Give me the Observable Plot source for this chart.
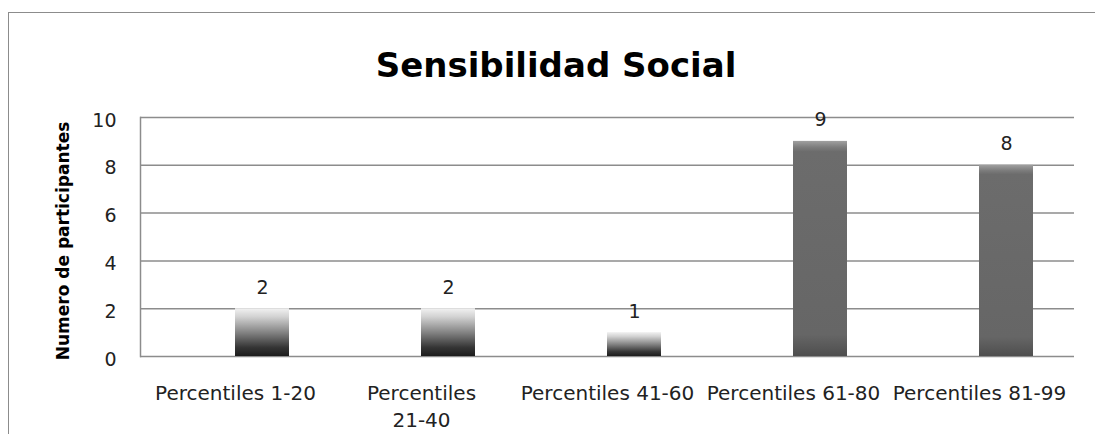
<!DOCTYPE html>
<html><head><meta charset="utf-8">
<script src="https://cdn.jsdelivr.net/npm/d3@7"></script>
<script src="https://cdn.jsdelivr.net/npm/@observablehq/plot@0.6"></script>
<style>
body{margin:0;background:#fff;font-family:"DejaVu Sans",sans-serif;}
#wrap{position:relative;width:1095px;height:434px;overflow:hidden;}
#frame{position:absolute;left:8px;top:12px;width:1200px;height:600px;border-left:1.5px solid #8c8c8c;border-top:1.5px solid #8c8c8c;box-sizing:border-box;}
#title{position:relative;height:90px;}
#title span{position:absolute;left:0;width:1112px;top:48px;text-align:center;font:bold 34px/34px "DejaVu Sans",sans-serif;color:#000;}
#chart{position:relative;}
</style></head>
<body><div id="wrap"><div id="frame"></div><div id="title"><span id="tt"></span></div><div id="chart"></div></div>
<script>
const title = "Sensibilidad Social";
const yLabel = "Numero de participantes";
const categories = ["Percentiles 1-20", "Percentiles\n21-40", "Percentiles 41-60", "Percentiles 61-80", "Percentiles 81-99"];
const values = [2, 2, 1, 9, 8];
const yTicks = [0, 2, 4, 6, 8, 10];

document.getElementById("tt").textContent = title;
const data = categories.map((c, i) => ({category: c, value: values[i]}));

const defsMark = () => {
  const defs = d3.create("svg:defs");
  const g1 = defs.append("linearGradient").attr("id", "gShort").attr("x1", 0).attr("y1", 0).attr("x2", 0).attr("y2", 1);
  [["0%", "#f2f2f2"], ["18%", "#d2d2d2"], ["50%", "#858585"], ["82%", "#353535"], ["100%", "#1c1c1c"]]
    .forEach(([o, c]) => g1.append("stop").attr("offset", o).attr("stop-color", c));
  const g2 = defs.append("linearGradient").attr("id", "gTall").attr("x1", 0).attr("y1", 0).attr("x2", 0).attr("y2", 1);
  [["0%", "#a0a0a0"], ["3%", "#7c7c7c"], ["5%", "#6c6c6c"], ["90%", "#666666"], ["100%", "#4e4e4e"]]
    .forEach(([o, c]) => g2.append("stop").attr("offset", o).attr("stop-color", c));
  return defs.node();
};

const chart = Plot.plot({
  width: 1095, height: 344,
  marginTop: 27, marginBottom: 78, marginLeft: 140, marginRight: 21,
  style: {fontFamily: "DejaVu Sans", fontSize: "19px", color: "#222", background: "transparent"},
  x: {domain: categories, paddingInner: 0.71, paddingOuter: 0.355, label: null},
  y: {domain: [0, 10], label: null},
  marks: [
    defsMark,
    Plot.ruleY(yTicks, {stroke: "#8c8c8c", strokeWidth: 1.5}),
    Plot.frame({anchor: "left", stroke: "#8c8c8c", strokeWidth: 1.5}),
    Plot.barY(data.filter(d => d.value < 5), {x: "category", y: "value", fill: "url(#gShort)", dx: 27}),
    Plot.barY(data.filter(d => d.value >= 5), {x: "category", y: "value", fill: "url(#gTall)", dx: 27}),
    Plot.text(data, {x: "category", y: "value", text: d => String(d.value), dx: 27, dy: -15, lineAnchor: "bottom", fontSize: 19, fill: "#222"}),
    Plot.axisY({ticks: yTicks, tickSize: 0, tickPadding: 24, dy: 3, label: null, fontSize: 19}),
    Plot.axisX({tickSize: 0, tickPadding: 24, label: null, lineHeight: 1.35, fontSize: 20}),
    Plot.text([yLabel], {frameAnchor: "left", textAnchor: "middle", rotate: -90, dx: -77, dy: 4, fontWeight: "bold", fontSize: 17, fill: "#000"})
  ]
});
document.getElementById("chart").appendChild(chart);
</script>
</body></html>
